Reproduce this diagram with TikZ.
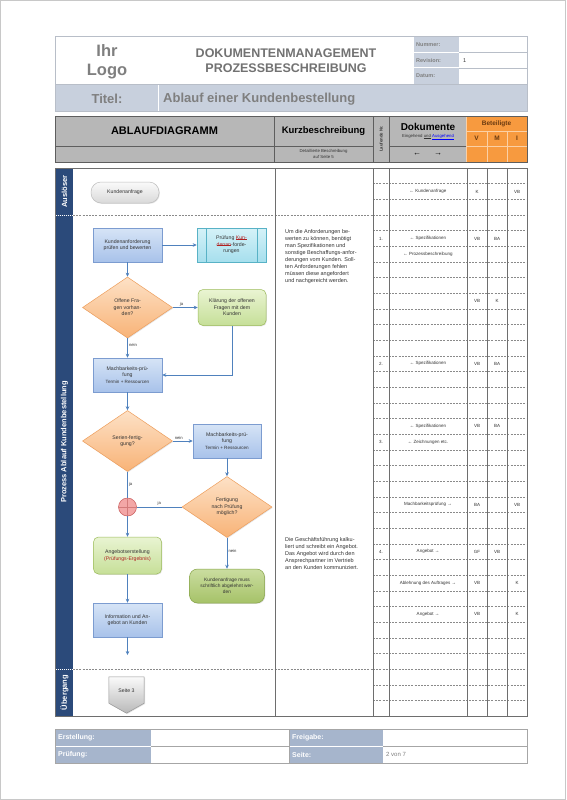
\documentclass[tikz,border=0pt]{standalone}
\usepackage{fontspec}
\setmainfont{Liberation Sans}
\usetikzlibrary{shapes.geometric,arrows.meta,shadows,calc}
\newcommand\mystrike[1]{\setbox0\hbox{#1}\leavevmode\rlap{\rule[0.35ex]{\wd0}{0.3pt}}\box0}
\definecolor{tgray}{HTML}{C8D0DD}
\definecolor{tborder}{HTML}{B8BEC8}
\definecolor{ttext}{HTML}{7F7F7F}
\definecolor{hgray}{HTML}{B7B7B7}
\definecolor{hline}{HTML}{5E5E5E}
\definecolor{horange}{HTML}{F79A3F}
\definecolor{olines}{HTML}{FBD0A5}
\definecolor{hbrown}{HTML}{6A3A10}
\definecolor{navy}{HTML}{2B4A7A}
\definecolor{gridc}{HTML}{6E6E6E}
\definecolor{dashc}{HTML}{8A8A8A}
\definecolor{arrowc}{HTML}{4F81BD}
\definecolor{blueT}{HTML}{D6E4F6}
\definecolor{blueB}{HTML}{A8C2EA}
\definecolor{blueD}{HTML}{7C9CD0}
\definecolor{cyanT}{HTML}{D5F2F8}
\definecolor{cyanB}{HTML}{A6DFED}
\definecolor{cyanD}{HTML}{58B2C6}
\definecolor{orT}{HTML}{FDE1C6}
\definecolor{orB}{HTML}{F8B377}
\definecolor{orD}{HTML}{EE9E5C}
\definecolor{grT}{HTML}{E9F4D2}
\definecolor{grB}{HTML}{C6DF98}
\definecolor{grD}{HTML}{9BBB59}
\definecolor{olT}{HTML}{CADDA0}
\definecolor{olB}{HTML}{A6C268}
\definecolor{olD}{HTML}{85A246}
\definecolor{pgT}{HTML}{FAFAFA}
\definecolor{pgB}{HTML}{D9D9D9}
\definecolor{pgD}{HTML}{BDBDBD}
\definecolor{rcF}{HTML}{F3A7A7}
\definecolor{rcD}{HTML}{C85A5A}
\definecolor{fgray}{HTML}{A6B5CC}
\definecolor{redtxt}{HTML}{B02020}
\definecolor{txtdark}{HTML}{333333}
\definecolor{pageframe}{HTML}{C8C8C8}
\begin{document}
\begin{tikzpicture}[x=1pt,y=-1pt,
  box/.style={rectangle, draw=#1D, top color=#1T, bottom color=#1B, line width=0.5pt,
    align=center, inner sep=1pt, text=txtdark, font=\fontsize{5.2}{6.4}\selectfont,
    drop shadow={opacity=0.22, shadow xshift=0.8pt, shadow yshift=-0.8pt}},
  dia/.style={diamond, draw=orD, top color=orT, bottom color=orB, line width=0.5pt,
    align=center, inner sep=0pt, text=txtdark, font=\fontsize{5.2}{6.4}\selectfont,
    minimum width=90pt, minimum height=61pt,
    drop shadow={opacity=0.22, shadow xshift=0.8pt, shadow yshift=-0.8pt}},
  fl/.style={draw=arrowc, line width=0.6pt, -{Stealth[length=4pt,width=3.6pt]}},
  ln/.style={draw=arrowc, line width=0.6pt},
  lbl/.style={font=\fontsize{4.2}{5}\selectfont, text=txtdark, inner sep=1.2pt},
  hcell/.style={rectangle, draw=hline, fill=hgray, line width=0.6pt, inner sep=0pt,
    outer sep=0pt, anchor=north west, align=center, text=black},
  ocell/.style={rectangle, draw=olines, fill=horange, line width=0.6pt, inner sep=0pt,
    outer sep=0pt, anchor=north west, align=center, text=hbrown,
    font=\fontsize{6.5}{8}\selectfont\bfseries},
  ttxt/.style={font=\fontsize{4.5}{5.5}\selectfont, text=txtdark, inner sep=0pt},
  ttl/.style={font=\fontsize{5.5}{6.5}\selectfont\bfseries, text=ttext, anchor=west, inner sep=0pt},
  ftl/.style={font=\fontsize{7}{8}\selectfont\bfseries, text=white, anchor=west, inner sep=0pt},
  lane/.style={rotate=90, font=\fontsize{7.5}{9}\selectfont\bfseries, text=white, inner sep=0pt},
  kb/.style={anchor=north west, align=left, inner sep=0pt, font=\fontsize{5.5}{7}\selectfont, text=txtdark}
]
\useasboundingbox (0,0) rectangle (566,800);
\fill[white] (0,0) rectangle (566,800);
\draw[pageframe, line width=1pt] (0.5,0.5) rectangle (565.5,799.5);

% ---------- title block ----------
\fill[tgray] (413.5,37) rectangle (458.5,52);
\fill[tgray] (413.5,53) rectangle (458.5,67.5);
\fill[tgray] (413.5,68.5) rectangle (458.5,83.5);
\draw[tborder, line width=0.5pt] (459,52.5) -- (527,52.5) (459,68) -- (527,68);
\draw[tborder, line width=0.5pt] (55,84) -- (527,84);
\fill[tgray] (55,85) rectangle (157.5,111);
\fill[tgray] (158.5,85) rectangle (527,111);
\draw[tborder, line width=0.7pt] (55,36) rectangle (527,111);
\node[font=\fontsize{16.5}{19}\selectfont\bfseries, text=ttext, align=center] (logo) at (107,61.5) {Ihr\\Logo};
\node[font=\fontsize{12.5}{15}\selectfont\bfseries, text=ttext!90!black, align=center] (dm) at (286,61) {DOKUMENTENMANAGEMENT\\PROZESSBESCHREIBUNG};
\node[ttl] (num) at (416,44.5) {Nummer:};
\node[ttl] (rev) at (416,60.5) {Revision:};
\node[ttl] (dat) at (416,76) {Datum:};
\node[font=\fontsize{5.5}{6.5}\selectfont, text=txtdark, anchor=west, inner sep=0pt] (revv) at (463,60.5) {1};
\node[font=\fontsize{13}{15}\selectfont\bfseries, text=ttext] (titl) at (107,99) {Titel:};
\node[font=\fontsize{13}{15}\selectfont\bfseries, text=ttext, anchor=west, inner sep=0pt] (titv) at (163,99) {Ablauf einer Kundenbestellung};

% ---------- table header ----------
\node[hcell, minimum width=219pt, minimum height=30pt, font=\fontsize{11}{13}\selectfont\bfseries] (abl) at (55,116) {ABLAUFDIAGRAMM};
\node[hcell, minimum width=219pt, minimum height=16pt] (abl2) at (55,146) {};
\node[hcell, minimum width=99pt, minimum height=30pt, font=\fontsize{9.5}{11}\selectfont\bfseries] (kurz) at (274,116) {Kurzbeschreibung};
\node[hcell, minimum width=99pt, minimum height=16pt, font=\fontsize{4.3}{5.3}\selectfont, text=txtdark] (kurz2) at (274,146) {Detaillierte Beschreibung\\auf Seite 5};
\node[hcell, minimum width=16pt, minimum height=46pt] (lauf) at (373,116) {};
\node[rotate=90, font=\fontsize{4.2}{5}\selectfont\bfseries, text=txtdark, inner sep=0pt] (laufT) at (lauf.center) {Laufende Nr.};
\node[hcell, minimum width=77pt, minimum height=30pt] (dok) at (389,116) {};
\node[font=\fontsize{10}{12}\selectfont\bfseries, inner sep=0pt] (dokT) at (428,127) {Dokumente};
\node[font=\fontsize{4.3}{5}\selectfont, text=txtdark, inner sep=0pt] (dokS) at (428,137) {Eingehend \underline{und} \textcolor{blue}{\underline{Ausgehend}}};
\node[hcell, minimum width=77pt, minimum height=16pt, font=\fontsize{8}{9}\selectfont] (dok2) at (389,146) {←\hspace{13pt}→};
\node[ocell, minimum width=61pt, minimum height=15pt] (bet) at (466,116) {Beteiligte};
\node[ocell, minimum width=21pt, minimum height=15pt] (bv) at (466,131) {V};
\node[ocell, minimum width=20pt, minimum height=15pt] (bm) at (487,131) {M};
\node[ocell, minimum width=20pt, minimum height=15pt] (bi) at (507,131) {I};
\node[ocell, minimum width=21pt, minimum height=16pt] (bv2) at (466,146) {};
\node[ocell, minimum width=20pt, minimum height=16pt] (bm2) at (487,146) {};
\node[ocell, minimum width=20pt, minimum height=16pt] (bi2) at (507,146) {};
\draw[hline, line width=0.8pt] (55,116) rectangle (527,162);

% ---------- body grid ----------
\fill[navy] (55.5,168) rectangle (73,716);
\foreach \i in {1,...,34}
  \draw[dashc, line width=0.4pt, dash pattern=on 2pt off 1.2pt] (373,{168+\i*15.66}) -- (527,{168+\i*15.66});
\draw[dashc, line width=0.5pt, dash pattern=on 2pt off 1.2pt] (73,214.98) -- (373,214.98) (73,669.12) -- (373,669.12);
\draw[white, line width=0.6pt, dash pattern=on 1pt off 1pt] (55.5,214.98) -- (73,214.98) (55.5,669.12) -- (73,669.12);
\foreach \x in {275,373,389,467,487,507}
  \draw[gridc, line width=0.7pt] (\x,168) -- (\x,716);
\draw[gridc, line width=0.8pt] (55,168) rectangle (527,716);
\node[lane] (l1) at (64.5,191.5) {Auslöser};
\node[lane] (l2) at (64.5,442) {Prozess Ablauf Kundenbestellung};
\node[lane] (l3) at (64.5,692.5) {Übergang};

% ---------- table entries ----------
\foreach \r/\t [count=\k] in {1/{← Kundenanfrage},4/{← Spezifikationen},5/{← Prozessbeschreibung},12/{← Spezifikationen},16/{← Spezifikationen},17/{← Zeichnungen etc.},21/{Machbarkeitsprüfung →},24/{Angebot →},26/{Ablehnung des Auftrages →},28/{Angebot →}}
  \node[ttxt] (doc\k) at (428,{168+(\r+0.5)*15.66}) {\t};
\foreach \r/\t [count=\k] in {4/{1.},12/{2.},17/{3.},24/{4.}}
  \node[ttxt] (nr\k) at (381,{168+(\r+0.5)*15.66}) {\t};
\foreach \r/\x/\t [count=\k] in {1/477/K,1/517/VB,4/477/VB,4/497/BA,8/477/VB,8/497/K,12/477/VB,12/497/BA,16/477/VB,16/497/BA,21/477/BA,21/517/VB,24/477/GF,24/497/VB,26/477/VB,26/517/K,28/477/VB,28/517/K}
  \node[ttxt] (p\k) at (\x,{168+(\r+0.5)*15.66}) {\t};

% ---------- Kurzbeschreibung ----------
\node[kb] (kb1) at (285,229.5) {Um die Anforderungen be-\\werten zu können, benötigt\\man Spezifikationen und\\sonstige Beschaffungs-anfor-\\derungen vom Kunden. Soll-\\ten Anforderungen fehlen\\müssen diese angefordert\\und nachgereicht werden.};
\node[kb] (kb2) at (285,537) {Die Geschäftsführung kalku-\\liert und schreibt ein Angebot.\\Das Angebot wird durch den\\Ansprechpartner im Vertrieb\\an den Kunden kommuniziert.};

% ---------- flowchart ----------
\node[box=pg, rounded corners=10pt, minimum width=68pt, minimum height=21pt] (kanfr) at (125,192.5) {Kundenanfrage};
\node[box=blue, minimum width=69pt, minimum height=34pt] (kanf) at (127.5,245) {Kundenanforderung\\prüfen und bewerten};
\node[box=cyan, minimum width=69pt, minimum height=34pt] (pruef) at (231.5,245) {Prüfung \textcolor{redtxt}{\mystrike{Kun-}}\\\textcolor{redtxt}{\mystrike{denan}}-forde-\\rungen};
\draw[cyanD, line width=0.5pt] ([xshift=9pt]pruef.north west) -- ([xshift=9pt]pruef.south west)
  ([xshift=-9pt]pruef.north east) -- ([xshift=-9pt]pruef.south east);
\node[dia] (d1) at (127.5,307.5) {Offene Fra-\\gen vorhan-\\den?};
\node[box=gr, rounded corners=5pt, minimum width=68pt, minimum height=36pt] (klaer) at (232,307.5) {Klärung  der offenen\\Fragen mit dem\\Kunden};
\node[box=blue, minimum width=69pt, minimum height=34pt] (mach1) at (127.5,375) {Machbarkeits-prü-\\fung\\{\fontsize{4.6}{5.6}\selectfont Termin + Ressourcen}};
\node[dia] (d2) at (127.5,441) {Serien-fertig-\\gung?};
\node[box=blue, minimum width=68pt, minimum height=34pt] (mach2) at (227,441) {Machbarkeits-prü-\\fung\\{\fontsize{4.6}{5.6}\selectfont Termin + Ressourcen}};
\node[dia] (d3) at (227,507) {Fertigung\\nach Prüfung\\möglich?};
\node[circle, draw=rcD, fill=rcF, minimum size=18pt, inner sep=0pt, line width=0.5pt] (circ) at (127.5,507) {};
\draw[rcD!80, line width=0.5pt] (circ.north) -- (circ.south) (circ.west) -- (circ.east);
\node[box=gr, rounded corners=5pt, minimum width=68pt, minimum height=37pt] (angebot) at (127.5,555.5) {Angebotserstellung\\\textcolor{redtxt}{(Prüfungs-Ergebnis)}};
\node[box=ol, rounded corners=8pt, minimum width=75pt, minimum height=34pt, font=\fontsize{4.8}{5.8}\selectfont] (ablehn) at (227,586) {Kundenanfrage muss\\schriftlich abgelehnt wer-\\den};
\node[box=blue, minimum width=69pt, minimum height=34pt] (info) at (127.5,620) {Information und An-\\gebot  an Kunden};
\coordinate (endp) at (127.5,655);

\draw[fl] (kanf) -- (pruef);
\draw[fl] (kanf) -- (d1);
\draw[fl] (d1) -- node[lbl, above, pos=0.35] (lja1) {ja} (klaer);
\draw[fl] (d1) -- node[lbl, right, pos=0.35] (lnein1) {nein} (mach1);
\draw[fl] (klaer.south) |- (mach1.east);
\draw[fl] (mach1) -- (d2);
\draw[fl] (d2) -- node[lbl, above, pos=0.3] (lnein2) {nein} (mach2);
\draw[fl] (mach2) -- (d3);
\draw[ln] (d2) -- node[lbl, right, pos=0.5] (lja2) {ja} (circ);
\draw[ln] (d3) -- node[lbl, above, pos=0.5] (lja3) {ja} (circ);
\draw[fl] (circ) -- (angebot);
\draw[fl] (d3) -- node[lbl, right, pos=0.42] (lnein3) {nein} (ablehn);
\draw[fl] (angebot) -- (info);
\draw[fl] (info) -- (endp);

% off-page connector
\node[inner sep=0pt, minimum width=35pt, minimum height=36pt] (s3) at (126.5,695) {};
\shade[top color=pgT, bottom color=pgB!85!black, draw=pgD!80!black, line width=0.5pt,
  drop shadow={opacity=0.22, shadow xshift=0.8pt, shadow yshift=-0.8pt}]
  (s3.north west) -- (s3.north east) -- ($(s3.south east)+(0,-10)$) -- (s3.south) -- ($(s3.south west)+(0,-10)$) -- cycle;
\node[font=\fontsize{5.2}{6.4}\selectfont, text=txtdark] (s3t) at (126.5,691) {Seite 3};

% ---------- footer ----------
\fill[fgray] (55,729) rectangle (151,745.5);
\fill[fgray] (55,746.5) rectangle (151,763);
\fill[fgray] (289,729) rectangle (383,745.5);
\fill[fgray] (289,746.5) rectangle (383,763);
\draw[gray!70, line width=0.5pt] (151,746) -- (289,746) (383,746) -- (527,746);
\draw[gray!70, line width=0.5pt] (289,729) -- (289,763);
\draw[gray!70, line width=0.7pt] (55,729) rectangle (527,763);
\node[ftl] (f1) at (58,737.5) {Erstellung:};
\node[ftl] (f2) at (58,754.5) {Prüfung:};
\node[ftl] (f3) at (292,737.5) {Freigabe:};
\node[ftl] (f4) at (292,754.5) {Seite:};
\node[font=\fontsize{6}{7}\selectfont, text=ttext, anchor=west, inner sep=0pt] (f5) at (386,754.5) {2 von 7};
\end{tikzpicture}
\end{document}
